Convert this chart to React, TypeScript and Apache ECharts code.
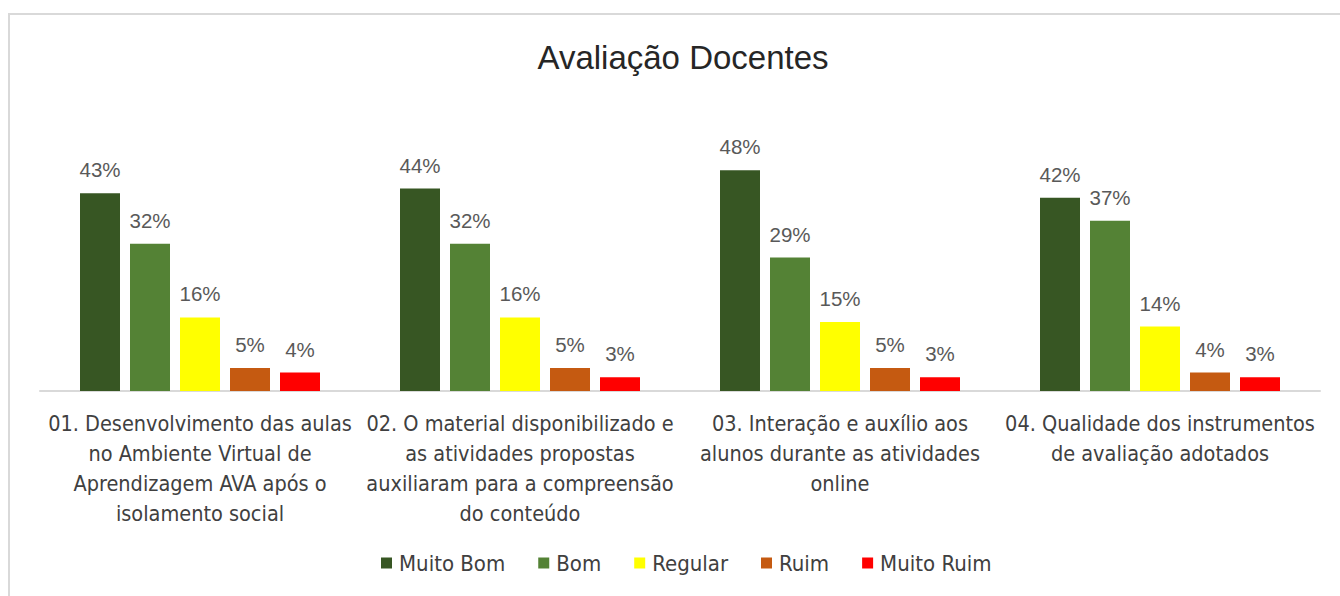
import React, { useEffect, useRef } from "react";
import * as echarts from "echarts";

const titleText = "Avaliação Docentes";
const categories = [
  "01. Desenvolvimento das aulas\nno Ambiente Virtual de\nAprendizagem AVA após o\nisolamento social",
  "02. O material disponibilizado e\nas atividades propostas\nauxiliaram para a compreensão\ndo conteúdo",
  "03. Interação e auxílio aos\nalunos durante as atividades\nonline",
  "04. Qualidade dos instrumentos\nde avaliação adotados",
];
const seriesNames = ["Muito Bom", "Bom", "Regular", "Ruim", "Muito Ruim"];
const muitoBom = [43, 44, 48, 42];
const bom = [32, 32, 29, 37];
const regular = [16, 16, 15, 14];
const ruim = [5, 5, 5, 4];
const muitoRuim = [4, 3, 3, 3];
const seriesColors = ["#375623", "#548235", "#FFFF00", "#C55A11", "#FF0000"];

const NARROW = "'Liberation Sans Narrow', 'DejaVu Sans Condensed', 'Liberation Sans', sans-serif";
const REG = "'Liberation Sans', Arial, sans-serif";

export default function App() {
  const ref = useRef<HTMLDivElement>(null);
  useEffect(() => {
    if (!ref.current) return;
    const chart = echarts.init(ref.current, undefined, { renderer: "svg" });
    const values = [muitoBom, bom, regular, ruim, muitoRuim];
    chart.setOption({
      animation: false,
      backgroundColor: "#ffffff",
      title: {
        text: titleText,
        left: 678,
        textAlign: "center",
        top: 36,
        textStyle: { fontFamily: REG, fontSize: 33, fontWeight: "normal", color: "#262626" },
      },
      graphic: [
        {
          type: "rect",
          shape: { x: 9, y: 14, width: 1400, height: 700 },
          style: { fill: "none", stroke: "#d9d9d9", lineWidth: 2 },
          silent: true,
          z: -1,
        },
      ],
      legend: {
        data: seriesNames,
        top: 547,
        left: 376,
        itemWidth: 11,
        itemHeight: 11,
        itemGap: 33,
        icon: "rect",
        textStyle: { fontFamily: NARROW, fontSize: 22, color: "#404040", padding: [0, 0, 0, 2] },
      },
      grid: { left: 40, right: 20, top: 115, bottom: 205 },
      xAxis: {
        type: "category",
        data: categories,
        axisTick: { show: false },
        axisLine: { lineStyle: { color: "#d9d9d9", width: 2 } },
        axisLabel: {
          fontFamily: NARROW,
          fontSize: 21.5,
          color: "#404040",
          lineHeight: 30,
          margin: 17,
          interval: 0,
        },
      },
      yAxis: {
        type: "value",
        min: 0,
        max: 60,
        show: false,
        splitLine: { show: false },
      },
      series: seriesNames.map((name, i) => ({
        name,
        type: "bar",
        data: values[i],
        barWidth: 40,
        barGap: "25%",
        itemStyle: { color: seriesColors[i] },
        label: {
          show: true,
          position: "top",
          distance: 13,
          formatter: "{c}%",
          fontFamily: REG,
          fontSize: 20.5,
          color: "#595959",
        },
      })),
    });
    return () => chart.dispose();
  }, []);
  return (
    <div
      ref={ref}
      style={{ position: "fixed", left: 0, top: 0, width: 1340, height: 596, background: "#fff" }}
    />
  );
}
